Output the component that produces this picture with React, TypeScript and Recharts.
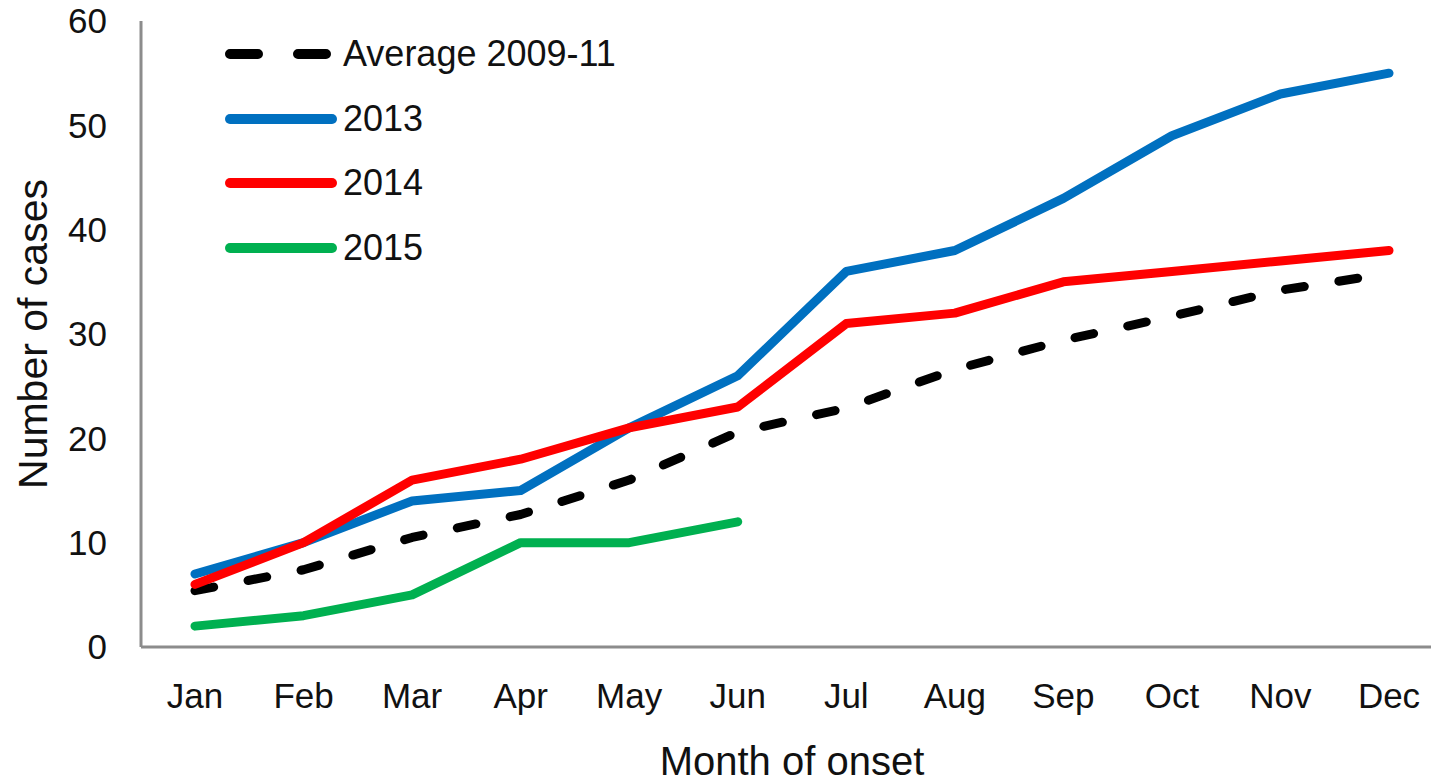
import React from 'react';
import { LineChart, Line, XAxis, YAxis, Legend, Label } from 'recharts';

const months = ['Jan', 'Feb', 'Mar', 'Apr', 'May', 'Jun', 'Jul', 'Aug', 'Sep', 'Oct', 'Nov', 'Dec'];
const avg0911 = [5.4, 7.4, 10.5, 12.7, 16.0, 20.6, 22.9, 26.6, 29.4, 31.7, 34.2, 35.8];
const y2013 = [7, 10, 14, 15, 21, 26, 36, 38, 43, 49, 53, 55];
const y2014 = [6, 10, 16, 18, 21, 23, 31, 32, 35, 36, 37, 38];
const y2015 = [2, 3, 5, 10, 10, 12];
const yTicks = [0, 10, 20, 30, 40, 50, 60];

const series = [
  { key: 'avg', name: 'Average 2009-11', color: '#000000', dash: '19 35', legendDash: '28 40' },
  { key: 'y2013', name: '2013', color: '#0070C0' },
  { key: 'y2014', name: '2014', color: '#FF0000' },
  { key: 'y2015', name: '2015', color: '#00B050' },
];

const data = months.map((m, i) => ({
  month: m,
  avg: avg0911[i],
  y2013: y2013[i],
  y2014: y2014[i],
  y2015: i < y2015.length ? y2015[i] : null,
}));

const FONT = '"Liberation Sans", Arial, sans-serif';

function LegendBox() {
  return (
    <div style={{ fontFamily: FONT, fontSize: 36, color: '#111' }}>
      {series.map((s) => (
        <div key={s.key} style={{ display: 'flex', alignItems: 'center', height: 64.5 }}>
          <svg width={118} height={14}>
            <line
              x1={10}
              y1={7}
              x2={s.legendDash ? 108 : 112}
              y2={7}
              stroke={s.color}
              strokeWidth={10}
              strokeLinecap="round"
              strokeDasharray={s.legendDash}
            />
          </svg>
          <span style={{ marginLeft: 5, lineHeight: '40px' }}>{s.name}</span>
        </div>
      ))}
    </div>
  );
}

export default function App() {
  return (
    <div style={{ position: 'fixed', left: 0, top: 0, width: 1431, height: 782, overflow: 'hidden', background: '#fff' }}>
      <LineChart width={1443} height={782} data={data} margin={{ top: 21, right: 0, bottom: 0, left: 0 }}>
        <XAxis
          dataKey="month"
          height={135}
          padding={{ left: 54, right: 54 }}
          axisLine={{ stroke: '#8c8c8c', strokeWidth: 3 }}
          tickLine={false}
          tickSize={6}
          tickMargin={30}
          interval={0}
          tick={{ fill: '#111', fontSize: 35, fontFamily: FONT }}
        >
          <Label
            content={({ viewBox }: any) => (
              <text
                x={viewBox.x + viewBox.width / 2}
                y={775}
                textAnchor="middle"
                fontSize={40}
                fontFamily={FONT}
                fill="#111"
              >
                Month of onset
              </text>
            )}
          />
        </XAxis>
        <YAxis
          width={141}
          domain={[0, 60]}
          ticks={yTicks}
          axisLine={{ stroke: '#8c8c8c', strokeWidth: 3 }}
          tickLine={false}
          tickSize={6}
          tickMargin={28}
          tick={{ fill: '#111', fontSize: 35, fontFamily: FONT }}
        >
          <Label
            content={({ viewBox }: any) => (
              <text
                x={0}
                y={0}
                transform={`translate(47, ${viewBox.y + viewBox.height / 2}) rotate(-90)`}
                textAnchor="middle"
                fontSize={41}
                fontFamily={FONT}
                fill="#111"
              >
                Number of cases
              </text>
            )}
          />
        </YAxis>
        <Legend
          layout="vertical"
          align="center"
          verticalAlign="middle"
          wrapperStyle={{ left: 220, top: 22, width: 420 }}
          content={() => <LegendBox />}
        />
        {series.map((s) => (
          <Line
            key={s.key}
            type="linear"
            dataKey={s.key}
            name={s.name}
            stroke={s.color}
            strokeWidth={9}
            strokeDasharray={s.dash}
            strokeLinecap="round"
            strokeLinejoin="round"
            dot={false}
            activeDot={false}
            isAnimationActive={false}
          />
        ))}
      </LineChart>
    </div>
  );
}
